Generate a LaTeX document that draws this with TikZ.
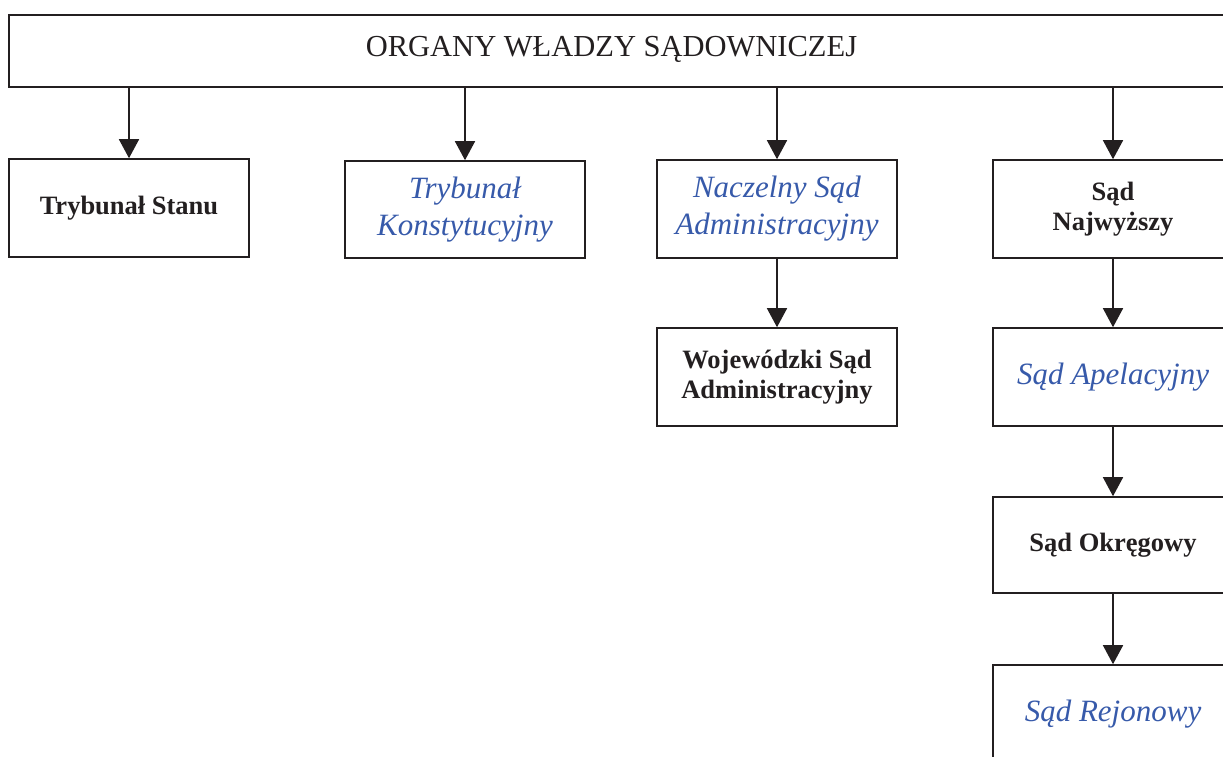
\documentclass[tikz,border=0pt]{standalone}
\usepackage{fontspec}
\setmainfont{Liberation Serif}
\usetikzlibrary{arrows.meta}
\definecolor{ink}{RGB}{35,31,32}
\definecolor{blueit}{RGB}{55,90,170}
\tikzset{
  box/.style={draw=ink, line width=1.6pt, rectangle, minimum width=240pt, minimum height=98pt, inner sep=2pt, align=center},
  boldtxt/.style={font=\fontsize{26.5}{30}\selectfont\bfseries, text=ink},
  ittxt/.style={font=\fontsize{31}{37}\selectfont\itshape, text=blueit},
  arr/.style={draw=ink, line width=1.6pt, -{Triangle[width=20pt,length=19pt]}, shorten >=0pt},
}
\begin{document}
\begin{tikzpicture}[x=1pt,y=-1pt]
\useasboundingbox (0,0) rectangle (1223,756);
\clip (0,0) rectangle (1223,756);
\node[draw=ink, line width=1.6pt, rectangle, minimum width=1231pt, minimum height=72pt, inner sep=0pt] (top) at (624.5,51) {};
\node[font=\fontsize{30.5}{36}\selectfont, text=ink, inner sep=0pt] (toplabel) at (611.5,49) {ORGANY WŁADZY SĄDOWNICZEJ};
\node[box, boldtxt] (ts) at (129,208) {Trybunał Stanu};
\node[box, ittxt, minimum height=97pt] (tk) at (465,209.5) {\raisebox{-2pt}{Trybunał}\\\raisebox{-2pt}{Konstytucyjny}};
\node[box, ittxt] (nsa) at (777,209) {Naczelny Sąd\\Administracyjny};
\node[box, boldtxt] (wsa) at (777,377) {Wojewódzki Sąd\\Administracyjny};
\node[box, boldtxt] (sn) at (1113,209) {Sąd\\Najwyższy};
\node[box, ittxt] (sa) at (1113,377) {Sąd Apelacyjny};
\node[box, boldtxt, minimum height=96pt] (so) at (1113,545) {Sąd Okręgowy};
\node[box, ittxt] (sr) at (1113,714) {Sąd Rejonowy};
\draw[arr] (top.south -| ts.north) -- (ts.north);
\draw[arr] (top.south -| tk.north) -- (tk.north);
\draw[arr] (top.south -| nsa.north) -- (nsa.north);
\draw[arr] (top.south -| sn.north) -- (sn.north);
\draw[arr] (nsa.south) -- (wsa.north);
\draw[arr] (sn.south) -- (sa.north);
\draw[arr] (sa.south) -- (so.north);
\draw[arr] (so.south) -- (sr.north);
\end{tikzpicture}
\end{document}
